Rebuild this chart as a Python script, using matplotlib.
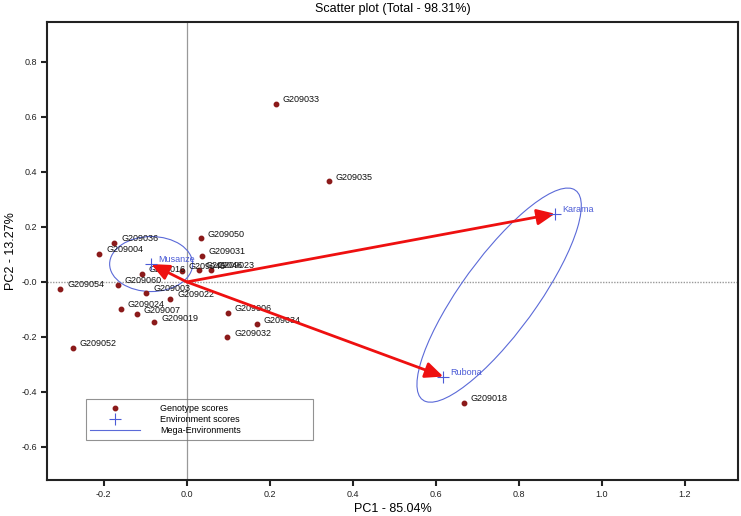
import numpy as np
import matplotlib
matplotlib.use("Agg")
import matplotlib.pyplot as plt
from matplotlib.patches import Ellipse
from matplotlib.lines import Line2D

plt.rcParams['font.family'] = ['Liberation Sans', 'DejaVu Sans']

# genotype scores
genotypes = ["G209033", "G209035", "G209050", "G209036", "G209004", "G209031",
             "G209016", "G209040", "G209046", "G209023", "G209060", "G209054",
             "G209003", "G209022", "G209024", "G209007", "G209019", "G209006",
             "G209034", "G209032", "G209052", "G209018"]
pc1 = [0.214, 0.342, 0.033, -0.175, -0.211, 0.036,
       -0.109, -0.012, 0.029, 0.058, -0.167, -0.305,
       -0.098, -0.040, -0.159, -0.120, -0.078, 0.098,
       0.168, 0.097, -0.275, 0.667]
pc2 = [0.647, 0.366, 0.159, 0.143, 0.101, 0.095,
       0.029, 0.040, 0.044, 0.044, -0.010, -0.025,
       -0.039, -0.062, -0.097, -0.118, -0.147, -0.113,
       -0.154, -0.201, -0.240, -0.439]

# environment scores
envs = ["Musanze", "Karama", "Rubona"]
env_pc1 = [-0.086, 0.887, 0.618]
env_pc2 = [0.065, 0.248, -0.344]
mega_groups = [["Musanze"], ["Karama", "Rubona"]]
mega_radius = 0.1

xticks = [-0.2, 0.0, 0.2, 0.4, 0.6, 0.8, 1.0, 1.2]
yticks = [0.8, 0.6, 0.4, 0.2, 0.0, -0.2, -0.4, -0.6]
ytick_labels = ["0.8", "0.6", "0.4", "0.2", "-0.0", "-0.2", "-0.4", "-0.6"]

geno_col = "#8b1a1a"
env_col = "#4b5bd6"
ell_col = "#5b6ad8"
arrow_col = "#ee1010"

fig = plt.figure(figsize=(7.41, 5.16), dpi=100)
ax = fig.add_axes([0.0634, 0.0698, 0.9325, 0.8876])

ax.axvline(0, color="#999999", lw=0.9, zorder=1)
ax.axhline(0, color="#999999", lw=1.0, ls=(0, (1, 1)), zorder=1)

ax.plot(pc1, pc2, "o", color=geno_col, ms=3.2, mec=geno_col, zorder=3)
for name, x, y in zip(genotypes, pc1, pc2):
    ax.annotate(name, (x, y), xytext=(5, 3), textcoords="offset points",
                fontsize=6.5, ha="left", va="center", color="#111111", zorder=3)

# mega-environment ellipses
lookup = {e: (x, y) for e, x, y in zip(envs, env_pc1, env_pc2)}
for grp in mega_groups:
    pts = np.array([lookup[e] for e in grp])
    c = pts.mean(axis=0)
    if len(grp) == 1:
        w, h, ang = 2 * mega_radius, 2 * mega_radius, 0
    else:
        d = pts[0] - pts[-1]
        w = np.hypot(*d) + 2 * mega_radius
        h = 2 * mega_radius
        ang = np.degrees(np.arctan2(d[1], d[0]))
    ax.add_patch(Ellipse(c, w, h, angle=ang, fill=False, ec=ell_col, lw=0.8, zorder=2))

for e, x, y in zip(envs, env_pc1, env_pc2):
    ax.annotate("", xy=(x, y), xytext=(0, 0),
                arrowprops=dict(arrowstyle="-|>,head_length=0.9,head_width=0.4",
                                color=arrow_col, lw=2, mutation_scale=12,
                                shrinkA=0, shrinkB=0), zorder=4)
    ax.annotate(e, (x, y), xytext=(5, 3), textcoords="offset points",
                fontsize=6.5, ha="left", va="center", color=env_col, zorder=5)
ax.plot(env_pc1, env_pc2, "+", color=env_col, ms=9, mew=0.8, zorder=5)

ax.set_xlim(-0.337, 1.328)
ax.set_ylim(-0.72, 0.945)
ax.set_xticks(xticks)
ax.set_xticklabels([f"{t:.1f}" for t in xticks])
ax.set_yticks(yticks)
ax.set_yticklabels(ytick_labels)
ax.tick_params(direction="out", length=4, width=1.5, labelsize=6.5,
               colors="#222222", pad=3)
for s in ax.spines.values():
    s.set_linewidth(1.5)
    s.set_color("#222222")

ax.set_title("Scatter plot (Total - 98.31%)", fontsize=9, pad=7)
ax.set_xlabel("PC1 - 85.04%", fontsize=9, labelpad=3)
ax.set_ylabel("PC2 - 13.27%", fontsize=9, labelpad=3)

handles = [Line2D([], [], ls="none", marker="o", ms=3.2, color=geno_col),
           Line2D([], [], ls="none", marker="+", ms=9, mew=0.8, color=env_col),
           Line2D([], [], color=ell_col, lw=0.8)]
leg = ax.legend(handles, ["Genotype scores", "Environment scores", "Mega-Environments"],
                loc="lower left", bbox_to_anchor=(0.0564, 0.0873, 0.3286, 0.09),
                mode="expand", fontsize=6.5, frameon=True, fancybox=False,
                handlelength=5.5, handletextpad=2.2, labelspacing=0.25,
                borderpad=0.5, borderaxespad=0)
leg.get_frame().set_facecolor("none")
leg.get_frame().set_edgecolor("#777777")
leg.get_frame().set_linewidth(0.8)

fig.savefig("out.png", dpi=100)
